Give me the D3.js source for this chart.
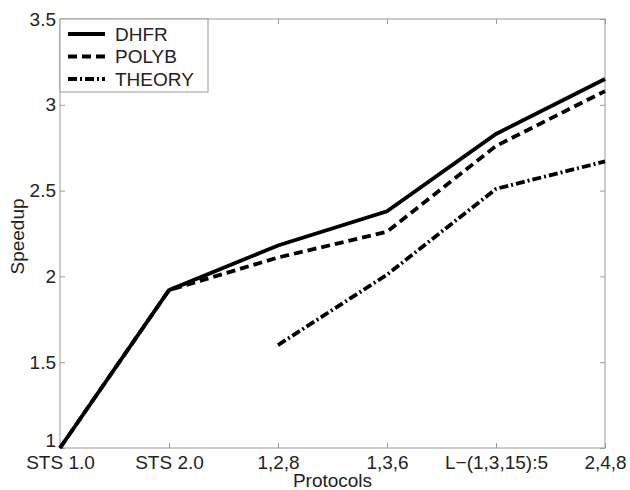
<!DOCTYPE html>
<html>
<head>
<meta charset="utf-8">
<script src="https://cdn.jsdelivr.net/npm/d3@7"></script>
<style>
  body { margin: 0; background: #fff; }
  text { font-family: "Liberation Sans", Arial, sans-serif; fill: #222; }
</style>
</head>
<body>
<svg id="chart" width="630" height="490"></svg>
<script>
var protocols = ["STS 1.0", "STS 2.0", "1,2,8", "1,3,6", "L\u2212(1,3,15):5", "2,4,8"];
var dhfr   = [1.0, 1.92, 2.18, 2.38, 2.83, 3.15];
var polyb  = [1.0, 1.92, 2.11, 2.26, 2.76, 3.08];
var theory = [null, null, 1.60, 2.01, 2.51, 2.67];
var yTicks = [1, 1.5, 2, 2.5, 3, 3.5];

var series = [
    { name: "DHFR",   values: dhfr,   dash: null },
    { name: "POLYB",  values: polyb,  dash: "9,5" },
    { name: "THEORY", values: theory, dash: "9,3,2,3" }
];

var margin = { left: 60, right: 25, top: 19, bottom: 42 };
var width = 630 - margin.left - margin.right;
var height = 490 - margin.top - margin.bottom;
var fontSize = "19px";

var svg = d3.select("#chart");
var g = svg.append("g").attr("transform", "translate(" + margin.left + "," + margin.top + ")");

var x = d3.scalePoint().domain(protocols).range([0, width]);
var y = d3.scaleLinear().domain([1, 3.5]).range([height, 0]);

// frame
g.append("rect").attr("width", width).attr("height", height)
    .attr("fill", "none").attr("stroke", "#999").attr("stroke-width", 1);

// axes, ticks inside like matlab
var xAxis = g.append("g").attr("transform", "translate(0," + height + ")")
    .call(d3.axisBottom(x).tickSize(-5).tickPadding(8));
var yAxis = g.append("g")
    .call(d3.axisLeft(y).tickValues(yTicks).tickSize(-5).tickPadding(4).tickFormat(d3.format("")));
g.append("g").call(d3.axisTop(x).tickSize(-5).tickFormat(""));
g.append("g").attr("transform", "translate(" + width + ",0)")
    .call(d3.axisRight(y).tickValues(yTicks).tickSize(-5).tickFormat(""));

g.selectAll(".domain").remove();
g.selectAll(".tick line").attr("stroke", "#999");
g.selectAll(".tick text").style("font-size", fontSize).attr("fill", "#222");
xAxis.selectAll(".tick text").attr("dy", "0.68em");
// the "1" label sits higher so it clears "STS 1.0"
yAxis.selectAll(".tick text").filter(function(d) { return d === 1; }).attr("dy", "-0.06em");

// lines
var line = d3.line()
    .defined(function(d) { return d != null; })
    .x(function(d, i) { return x(protocols[i]); })
    .y(function(d) { return y(d); });

series.forEach(function(s) {
    g.append("path")
        .datum(s.values)
        .attr("fill", "none")
        .attr("stroke", "#000")
        .attr("stroke-width", 3.8)
        .attr("stroke-dasharray", s.dash)
        .attr("d", line);
});

// axis labels
svg.append("text").attr("x", margin.left + width / 2).attr("y", 487)
    .attr("text-anchor", "middle").style("font-size", fontSize).text("Protocols");
svg.append("text").attr("transform", "translate(24," + (margin.top + height / 2 + 3) + ") rotate(-90)")
    .attr("text-anchor", "middle").style("font-size", fontSize).text("Speedup");

// legend
var lg = g.append("g");
lg.append("rect").attr("width", 148).attr("height", 73)
    .attr("fill", "#fff").attr("stroke", "#999").attr("stroke-width", 1);
series.forEach(function(s, i) {
    var yy = 15 + i * 22.5;
    lg.append("line").attr("x1", 8).attr("x2", 45).attr("y1", yy).attr("y2", yy)
        .attr("stroke", "#000").attr("stroke-width", 3.8)
        .attr("stroke-dasharray", s.dash);
    lg.append("text").attr("x", 55).attr("y", yy).attr("dy", "0.36em")
        .style("font-size", fontSize).text(s.name);
});
</script>
</body>
</html>
